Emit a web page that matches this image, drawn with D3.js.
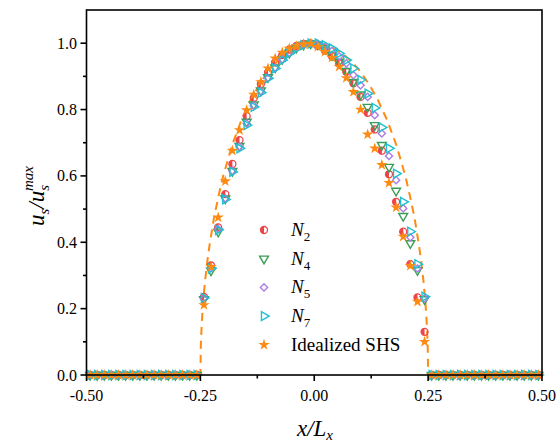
<!DOCTYPE html>
<html>
<head>
<meta charset="utf-8">
<script src="https://cdn.jsdelivr.net/npm/d3@7"></script>
</head>
<body style="margin:0;background:#fff">
<svg id="chart" width="558" height="442"></svg>
<script>
// cell centres outside the slip stripe (all series are zero there)
const ZERO_X = [-0.4922, -0.4766, -0.4609, -0.4453, -0.4297, -0.4141, -0.3984, -0.3828,
  -0.3672, -0.3516, -0.3359, -0.3203, -0.3047, -0.2891, -0.2734, -0.2578,
  0.2578, 0.2734, 0.2891, 0.3047, 0.3203, 0.3359, 0.3516, 0.3672,
  0.3828, 0.3984, 0.4141, 0.4297, 0.4453, 0.4609, 0.4766, 0.4922];

// cell centres on the slip stripe
const SLIP_X = [-0.2422, -0.2266, -0.2109, -0.1953, -0.1797, -0.1641, -0.1484, -0.1328,
  -0.1172, -0.1016, -0.0859, -0.0703, -0.0547, -0.0391, -0.0234, -0.0078,
  0.0078, 0.0234, 0.0391, 0.0547, 0.0703, 0.0859, 0.1016, 0.1172,
  0.1328, 0.1484, 0.1641, 0.1797, 0.1953, 0.2109, 0.2266, 0.2422];

const N2 = [0.235, 0.330, 0.445, 0.545, 0.636, 0.708, 0.780, 0.835, 0.877, 0.912, 0.942, 0.964, 0.981, 0.992, 0.998, 0.999,
  0.992, 0.978, 0.960, 0.939, 0.914, 0.879, 0.838, 0.790, 0.740, 0.676, 0.605, 0.522, 0.432, 0.334, 0.234, 0.130];
const N4 = [0.228, 0.315, 0.432, 0.532, 0.615, 0.690, 0.763, 0.815, 0.857, 0.897, 0.927, 0.952, 0.971, 0.986, 0.995, 0.999,
  0.996, 0.985, 0.964, 0.944, 0.916, 0.883, 0.845, 0.808, 0.753, 0.693, 0.627, 0.555, 0.479, 0.397, 0.316, 0.228];
const N5 = [0.230, 0.322, 0.440, 0.532, 0.615, 0.688, 0.758, 0.812, 0.855, 0.895, 0.926, 0.951, 0.971, 0.986, 0.995, 0.999,
  0.998, 0.990, 0.977, 0.960, 0.939, 0.904, 0.873, 0.838, 0.783, 0.728, 0.660, 0.587, 0.502, 0.415, 0.321, 0.231];
const N7 = [0.232, 0.321, 0.437, 0.529, 0.612, 0.683, 0.753, 0.808, 0.851, 0.894, 0.924, 0.949, 0.969, 0.984, 0.994, 0.999,
  0.999, 0.994, 0.984, 0.969, 0.949, 0.924, 0.889, 0.848, 0.805, 0.746, 0.683, 0.607, 0.522, 0.432, 0.334, 0.236];
const SHS = [0.211, 0.326, 0.475, 0.584, 0.676, 0.738, 0.798, 0.845, 0.883, 0.924, 0.954, 0.972, 0.984, 0.991, 0.997, 0.999,
  0.989, 0.974, 0.956, 0.929, 0.895, 0.853, 0.800, 0.725, 0.683, 0.633, 0.579, 0.505, 0.417, 0.329, 0.221, 0.100];

// dashed analytical profile
const LINE_X = [-0.5, -0.25, -0.25, -0.249, -0.247, -0.244, -0.24, -0.235, -0.23, -0.22, -0.21, -0.2, -0.18, -0.16, -0.14,
  -0.12, -0.1, -0.08, -0.06, -0.04, -0.02, 0, 0.02, 0.04, 0.06, 0.08, 0.1, 0.12, 0.14, 0.16, 0.18, 0.2, 0.21, 0.22,
  0.23, 0.235, 0.24, 0.244, 0.247, 0.249, 0.25, 0.25, 0.5];
const LINE_Y = [0, 0, 0, 0.09, 0.155, 0.22, 0.28, 0.34, 0.39, 0.475, 0.54, 0.6, 0.694, 0.768, 0.828,
  0.877, 0.917, 0.947, 0.971, 0.987, 0.997, 1, 0.997, 0.987, 0.971, 0.947, 0.917, 0.877, 0.828, 0.768, 0.694, 0.6, 0.54, 0.475,
  0.39, 0.34, 0.28, 0.22, 0.155, 0.09, 0, 0, 0];

const X_TICKS = [-0.5, -0.25, 0, 0.25, 0.5];
const X_LABELS = ["-0.50", "-0.25", "0.00", "0.25", "0.50"];
const X_MINOR = [-0.375, -0.125, 0.125, 0.375];
const Y_TICKS = [0, 0.2, 0.4, 0.6, 0.8, 1.0];
const Y_LABELS = ["0.0", "0.2", "0.4", "0.6", "0.8", "1.0"];
const Y_MINOR = [0.1, 0.3, 0.5, 0.7, 0.9];

const RED = "#ee4449", GREEN = "#3a9e57", PURPLE = "#ad7ee3", CYAN = "#1fc0cf", ORANGE = "#ff8a12";

const svg = d3.select("#chart");
const x = d3.scaleLinear().domain([-0.5, 0.5]).range([86.5, 542]);
const y = d3.scaleLinear().domain([0, 1.1]).range([375, 10]);

// every text gets the serif face set directly on it
const serif = (sel, size) => sel.attr("font-size", size).attr("font-family", "Liberation Serif")
  .style("font-family", '"Liberation Serif"');

// marker painters
const sym = (type, size) => d3.symbol().type(type).size(size)();
const markers = {
  n2: (g, color) => {
    g.append("circle").attr("r", 3.5).attr("fill", "none").attr("stroke", color).attr("stroke-width", 1.3);
    g.append("path").attr("d", d3.arc()({innerRadius: 0, outerRadius: 3.5, startAngle: Math.PI, endAngle: 2 * Math.PI}))
      .attr("fill", color);
  },
  n4: (g, color) => g.append("path").attr("d", sym(d3.symbolTriangle, 34)).attr("transform", "rotate(180)")
    .attr("fill", "none").attr("stroke", color).attr("stroke-width", 1.4),
  n5: (g, color) => g.append("path").attr("d", sym(d3.symbolSquare, 26)).attr("transform", "rotate(45)")
    .attr("fill", "none").attr("stroke", color).attr("stroke-width", 1.4),
  n7: (g, color) => g.append("path").attr("d", sym(d3.symbolTriangle, 34)).attr("transform", "rotate(90)")
    .attr("fill", "none").attr("stroke", color).attr("stroke-width", 1.4),
  shs: (g, color) => g.append("path").attr("d", sym(d3.symbolStar, 40)).attr("fill", color)
};

const series = [
  {key: "n2", values: N2, color: RED, label: "N", sub: "2"},
  {key: "n4", values: N4, color: GREEN, label: "N", sub: "4"},
  {key: "n5", values: N5, color: PURPLE, label: "N", sub: "5"},
  {key: "n7", values: N7, color: CYAN, label: "N", sub: "7"},
  {key: "shs", values: SHS, color: ORANGE, label: "Idealized SHS"}
];

// dashed profile
svg.append("path")
  .datum(d3.zip(LINE_X, LINE_Y))
  .attr("d", d3.line().x(d => x(d[0])).y(d => y(d[1])))
  .attr("fill", "none").attr("stroke", ORANGE).attr("stroke-width", 2)
  .attr("stroke-dasharray", "8,6");

// points
series.forEach(s => {
  const pts = ZERO_X.map(v => [v, 0]).concat(d3.zip(SLIP_X, s.values));
  const g = svg.append("g").attr("class", "series-" + s.key);
  pts.forEach(p => {
    const m = g.append("g").attr("transform", `translate(${x(p[0])},${y(p[1])})`);
    markers[s.key](m, s.color);
  });
});

// frame
const axisColor = "#000";
svg.append("rect").attr("x", x(-0.5)).attr("y", y(1.1))
  .attr("width", x(0.5) - x(-0.5)).attr("height", y(0) - y(1.1))
  .attr("fill", "none").attr("stroke", axisColor).attr("stroke-width", 1.6);

// x ticks
svg.append("g").selectAll("line").data(X_TICKS).join("line")
  .attr("x1", d => x(d)).attr("x2", d => x(d)).attr("y1", y(0)).attr("y2", y(0) + 6)
  .attr("stroke", axisColor).attr("stroke-width", 1.6);
svg.append("g").selectAll("line").data(X_MINOR).join("line")
  .attr("x1", d => x(d)).attr("x2", d => x(d)).attr("y1", y(0)).attr("y2", y(0) + 3.5)
  .attr("stroke", axisColor).attr("stroke-width", 1.6);
svg.append("g").selectAll("text").data(X_TICKS).join("text")
  .attr("x", d => x(d)).attr("y", 401).attr("text-anchor", "middle")
  .call(serif, 16).text((d, i) => X_LABELS[i]);

// y ticks
svg.append("g").selectAll("line").data(Y_TICKS).join("line")
  .attr("x1", x(-0.5) - 6).attr("x2", x(-0.5)).attr("y1", d => y(d)).attr("y2", d => y(d))
  .attr("stroke", axisColor).attr("stroke-width", 1.6);
svg.append("g").selectAll("line").data(Y_MINOR).join("line")
  .attr("x1", x(-0.5) - 3.5).attr("x2", x(-0.5)).attr("y1", d => y(d)).attr("y2", d => y(d))
  .attr("stroke", axisColor).attr("stroke-width", 1.6);
svg.append("g").selectAll("text").data(Y_TICKS).join("text")
  .attr("x", 77).attr("y", d => y(d) + 5.5).attr("text-anchor", "end")
  .call(serif, 16).text((d, i) => Y_LABELS[i]);

// axis titles
const xt = svg.append("text").attr("x", 315).attr("y", 436).attr("text-anchor", "middle")
  .call(serif, 23).attr("font-style", "italic");
xt.append("tspan").text("x/L");
xt.append("tspan").attr("font-size", 15).attr("dy", 4).text("x");

const yt = svg.append("text").attr("transform", "translate(44,196) rotate(-90)")
  .attr("text-anchor", "middle").call(serif, 23).attr("font-style", "italic");
yt.append("tspan").text("u");
yt.append("tspan").attr("font-size", 15).attr("dy", 5).text("s");
yt.append("tspan").attr("dy", -5).text("/u");
yt.append("tspan").attr("font-size", 15).attr("dy", 5).text("s");
yt.append("tspan").attr("font-size", 15).attr("dx", -6).attr("dy", -16).text("max");

// legend
const legend = svg.append("g");
series.forEach((s, i) => {
  const ly = 230 + i * 28.7;
  const m = legend.append("g").attr("transform", `translate(264,${ly})`);
  markers[s.key](m, s.color);
  const t = legend.append("text").attr("x", 291).attr("y", ly + 6).call(serif, 19);
  if (s.sub) {
    t.append("tspan").attr("font-style", "italic").text(s.label);
    t.append("tspan").attr("font-size", 13).attr("dy", 5).text(s.sub);
  } else {
    t.text(s.label);
  }
});
</script>
</body>
</html>
